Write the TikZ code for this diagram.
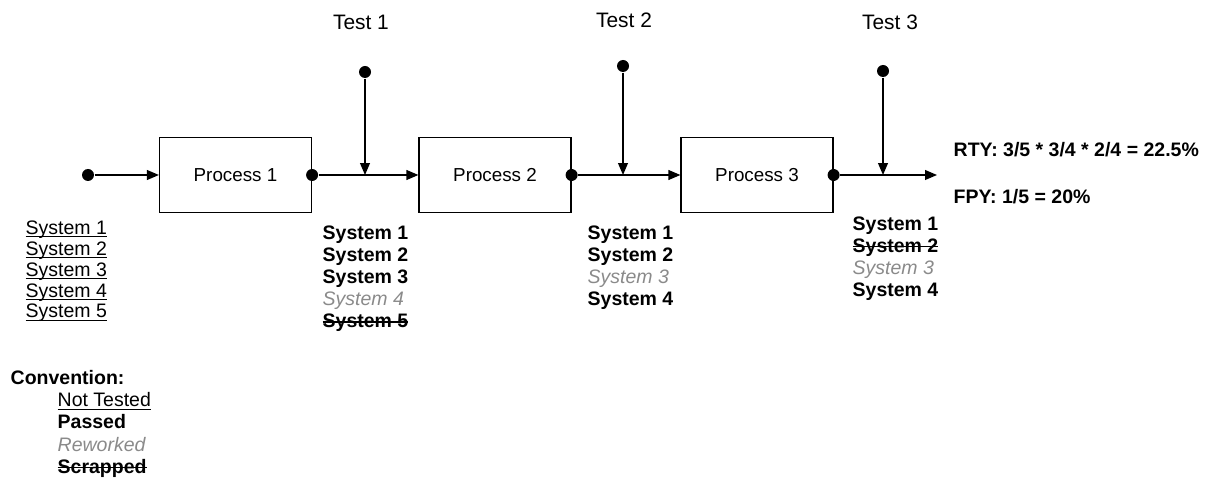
\documentclass[tikz,border=0pt]{standalone}
\usepackage{fontspec}
\setmainfont{Liberation Sans}
\usetikzlibrary{arrows.meta}
\definecolor{reworkgray}{HTML}{8A8A8A}
% status marks for the systems
\newsavebox{\markbox}
\newcommand{\notest}[1]{\sbox{\markbox}{#1}\rlap{\rule[-1.8pt]{\wd\markbox}{0.8pt}}\usebox{\markbox}}
\newcommand{\passed}[1]{\textbf{#1}}
\newcommand{\rework}[1]{{\color{reworkgray}\itshape #1}}
\newcommand{\scrap}[1]{\sbox{\markbox}{\bfseries #1}\rlap{\rule[2.9pt]{\wd\markbox}{0.9pt}}\usebox{\markbox}}

\begin{document}
\begin{tikzpicture}[x=0.02cm,y=-0.02cm,line width=0.8pt,
  procbox/.style={draw,line width=0.7pt,minimum width=3.04cm,minimum height=1.5cm,
    font=\fontsize{10.7}{12}\selectfont},
  tapdot/.style={circle,fill,inner sep=0pt,minimum size=0.24cm},
  flowarr/.style={-{Triangle[length=6.8pt,width=5.6pt]}},
  syslist/.style={anchor=north west,inner sep=0pt,align=left,
    font=\fontsize{11.1}{12.6}\selectfont},
  testlbl/.style={font=\fontsize{11.9}{13}\selectfont}]
  \useasboundingbox (0,0) rectangle (1207,479);
  % Processes
  \node[procbox] (p1) at (235.5,175) {Process 1};
  \node[procbox] (p2) at (495,175) {Process 2};
  \node[procbox] (p3) at (757,175) {Process 3};
  % Dots on the flow line
  \node[tapdot] (in) at (88,175) {};
  \node[tapdot] (o1) at (p1.east) {};
  \node[tapdot] (o2) at (p2.east) {};
  \node[tapdot] (o3) at (p3.east) {};
  \coordinate (out) at (937,175);
  % Tests
  \node[testlbl] (test1) at (361,22) {Test 1};
  \node[testlbl] (test2) at (624,20) {Test 2};
  \node[testlbl] (test3) at (890,22) {Test 3};
  \node[tapdot] (t1) at (365,72) {};
  \node[tapdot] (t2) at (623,66) {};
  \node[tapdot] (t3) at (883,71) {};
  \coordinate (j1) at (365,175);
  \coordinate (j2) at (623,175);
  \coordinate (j3) at (883,175);
  % Flow
  \draw[flowarr] (in) -- (p1.west);
  \draw[flowarr] (o1) -- (p2.west);
  \draw[flowarr] (o2) -- (p3.west);
  \draw[flowarr] (o3) -- (out);
  \draw[flowarr] (t1) -- (j1);
  \draw[flowarr] (t2) -- (j2);
  \draw[flowarr] (t3) -- (j3);
  % Systems before and after each test
  \node[syslist,font=\fontsize{11.1}{11.9}\selectfont] (start) at (25,220)
    {\notest{System 1}\\ \notest{System 2}\\ \notest{System 3}\\ \notest{System 4}\\ \notest{System 5}};
  \node[syslist] (after1) at (322,225)
    {\passed{System 1}\\ \passed{System 2}\\ \passed{System 3}\\ \rework{System 4}\\ \scrap{System 5}};
  \node[syslist] (after2) at (587,225)
    {\passed{System 1}\\ \passed{System 2}\\ \rework{System 3}\\ \passed{System 4}};
  \node[syslist] (after3) at (852,216)
    {\passed{System 1}\\ \scrap{System 2}\\ \rework{System 3}\\ \passed{System 4}};
  % Yields
  \node[anchor=west,inner sep=0pt,font=\fontsize{11.1}{12.6}\selectfont\bfseries] (rty) at (953,150)
    {RTY: 3/5 * 3/4 * 2/4 = 22.5\%};
  \node[anchor=west,inner sep=0pt,font=\fontsize{11.1}{12.6}\selectfont\bfseries] (fpy) at (953,197)
    {FPY: 1/5 = 20\%};
  % Legend
  \node[syslist,font=\fontsize{11.1}{12.6}\selectfont\bfseries] (conv) at (10,370) {Convention:};
  \node[syslist] (legend) at (57,392)
    {\notest{Not Tested}\\ \passed{Passed}\\ \rework{Reworked}\\ \scrap{Scrapped}};
\end{tikzpicture}
\end{document}
